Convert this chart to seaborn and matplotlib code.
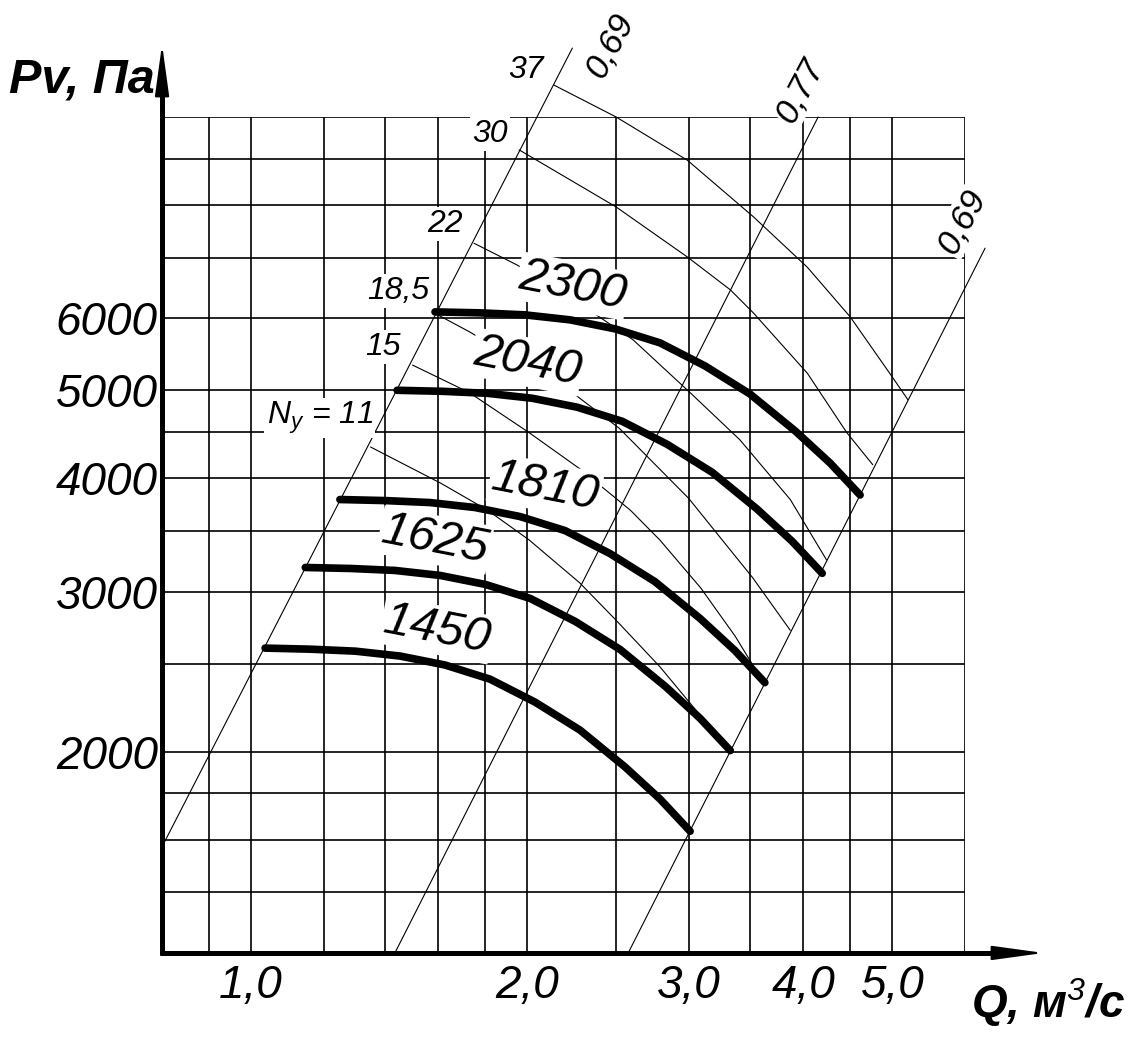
import pandas as pd
import seaborn as sns
import matplotlib.pyplot as plt

# Grid lines of the log-log chart
q_grid = [0.9, 1.0, 1.2, 1.4, 1.6, 1.8, 2.0, 2.5, 3.0, 3.5, 4.0, 4.5, 5.0, 6.0]
p_grid = [1400, 1600, 1800, 2000, 2500, 3000, 3500, 4000, 4500, 5000, 6000, 7000, 8000, 9000, 10000]
q_ticks = [1.0, 2.0, 3.0, 4.0, 5.0]
q_ticklabels = ["1,0", "2,0", "3,0", "4,0", "5,0"]
p_ticks = [2000, 3000, 4000, 5000, 6000]
p_ticklabels = ["2000", "3000", "4000", "5000", "6000"]

# Fan curves, rpm
speeds = ["1450", "1625", "1810", "2040", "2300"]
q_1450 = [1.036, 1.160, 1.299, 1.454, 1.627, 1.822, 2.040, 2.283, 2.557, 2.791, 3.010]
p_1450 = [2600, 2593, 2580, 2548, 2491, 2403, 2267, 2112, 1923, 1773, 1634]
q_1625 = [1.146, 1.283, 1.436, 1.608, 1.800, 2.015, 2.256, 2.525, 2.829, 3.087, 3.329]
p_1625 = [3190, 3182, 3166, 3126, 3056, 2949, 2782, 2591, 2359, 2175, 2005]
q_1810 = [1.25, 1.400, 1.567, 1.754, 1.964, 2.199, 2.461, 2.755, 3.086, 3.368, 3.631]
p_1810 = [3790, 3780, 3761, 3714, 3630, 3503, 3305, 3078, 2803, 2584, 2382]
q_2040 = [1.443, 1.616, 1.809, 2.025, 2.267, 2.538, 2.841, 3.181, 3.562, 3.888, 4.193]
p_2040 = [5000, 4987, 4962, 4900, 4790, 4622, 4360, 4061, 3698, 3409, 3143]
q_2300 = [1.587, 1.777, 1.989, 2.227, 2.493, 2.791, 3.124, 3.497, 3.917, 4.275, 4.611]
p_2300 = [6100, 6085, 6054, 5978, 5843, 5639, 5319, 4954, 4511, 4159, 3834]

# Power lines Ny, kW
powers = ["11", "15", "18,5", "22", "30", "37"]
q_n11 = [1.35, 1.61, 1.81, 2.01, 2.28, 2.5, 2.79, 3.09, 3.34]
p_n11 = [4330, 3950, 3690, 3420, 3070, 2790, 2480, 2190, 2000]
q_n15 = [1.5, 1.73, 2.01, 2.28, 2.59, 2.79, 3.09, 3.37, 3.63]
p_n15 = [5330, 4970, 4490, 4100, 3690, 3420, 3030, 2680, 2370]
q_n185 = [1.6, 1.73, 1.99, 2.27, 2.52, 3.0, 3.24, 3.52, 3.87]
p_n185 = [6050, 5800, 5330, 4920, 4540, 3800, 3450, 3110, 2720]
q_n22 = [1.75, 1.95, 2.25, 2.61, 3.01, 3.41, 3.87, 4.24]
p_n22 = [7260, 6870, 6290, 5680, 4970, 4410, 3790, 3250]
q_n30 = [1.96, 2.5, 2.99, 3.33, 3.53, 4.04, 4.46, 4.76]
p_n30 = [9200, 7960, 7010, 6450, 6080, 5220, 4490, 4140]
q_n37 = [2.14, 2.5, 2.99, 3.53, 4.04, 4.5, 5.0, 5.2]
p_n37 = [10840, 10000, 8960, 7760, 6830, 6020, 5170, 4880]

# Efficiency lines
eff_names = ["left 0,69", "0,77", "right 0,69"]
q_eff = [[0.8, 2.24], [1.435, 4.15], [2.577, 6.31]]
p_eff = [[1571, 11910], [1200, 10000], [1200, 7170]]

fan = pd.concat([
    pd.DataFrame({"Q": q, "P": p, "n": s})
    for s, q, p in zip(speeds, [q_1450, q_1625, q_1810, q_2040, q_2300],
                       [p_1450, p_1625, p_1810, p_2040, p_2300])
])
power = pd.concat([
    pd.DataFrame({"Q": q, "P": p, "N": s})
    for s, q, p in zip(powers, [q_n11, q_n15, q_n185, q_n22, q_n30, q_n37],
                       [p_n11, p_n15, p_n185, p_n22, p_n30, p_n37])
])
eff = pd.concat([
    pd.DataFrame({"Q": q, "P": p, "eta": s}) for s, q, p in zip(eff_names, q_eff, p_eff)
])

sns.set_theme(style="white")
plt.rcParams["font.family"] = ["Liberation Sans", "DejaVu Sans"]
plt.rcParams["mathtext.fontset"] = "custom"
plt.rcParams["mathtext.rm"] = "Liberation Sans:italic"
plt.rcParams["mathtext.it"] = "Liberation Sans:italic"
plt.rcParams["mathtext.bf"] = "Liberation Sans:bold:italic"
plt.rcParams["text.color"] = "black"
plt.rcParams["xtick.color"] = "black"
plt.rcParams["ytick.color"] = "black"
plt.rcParams["xtick.labelcolor"] = "black"
plt.rcParams["ytick.labelcolor"] = "black"

fig = plt.figure(figsize=(11.34, 10.4), dpi=100)
ax = fig.add_axes([0.1429, 0.0837, 0.7081, 0.8038])
ax.set_xscale("log")
ax.set_yscale("log")
ax.set_xlim(0.8, 6.0)
ax.set_ylim(1200, 10000)

# grid
for q in q_grid:
    ax.axvline(q, color="black", lw=1.2, zorder=1)
for p in p_grid:
    ax.axhline(p, color="black", lw=1.2, zorder=1)

# thin lines
sns.lineplot(data=eff, x="Q", y="P", units="eta", estimator=None, sort=False,
             color="black", lw=0.8, ax=ax, legend=False, zorder=2, clip_on=False)
sns.lineplot(data=power, x="Q", y="P", units="N", estimator=None, sort=False,
             color="black", lw=0.8, ax=ax, legend=False, zorder=2, clip_on=False)
# fan curves
sns.lineplot(data=fan, x="Q", y="P", units="n", estimator=None, sort=False,
             color="black", lw=5.5, ax=ax, legend=False, zorder=4,
             solid_capstyle="round", solid_joinstyle="round")

# ticks
ax.set_xticks(q_ticks, q_ticklabels)
ax.set_yticks(p_ticks, p_ticklabels)
ax.minorticks_off()
ax.tick_params(axis="both", length=0, labelsize=33, labelcolor="black")
ax.tick_params(axis="x", pad=8)
ax.tick_params(axis="y", pad=3)
for lbl in ax.get_xticklabels() + ax.get_yticklabels():
    lbl.set_style("italic")
ax.set_xlabel("")
ax.set_ylabel("")
for sp in ax.spines.values():
    sp.set_visible(False)

# axes lines with long narrow arrowheads
ax.plot([-0.003, 1.05], [0, 0], transform=ax.transAxes, color="black", lw=3.6,
        clip_on=False, zorder=5, solid_capstyle="butt")
ax.plot([0, 0], [-0.003, 1.04], transform=ax.transAxes, color="black", lw=3.6,
        clip_on=False, zorder=5, solid_capstyle="butt")
head = dict(arrowstyle="-|>,head_length=1.6,head_width=0.22", lw=1.5,
            color="black", shrinkA=0, shrinkB=0, mutation_scale=20)
ax.annotate("", xy=(1.098, 0), xytext=(1.0, 0), xycoords="axes fraction",
            arrowprops=head, annotation_clip=False)
ax.annotate("", xy=(0, 1.087), xytext=(0, 1.0), xycoords="axes fraction",
            arrowprops=head, annotation_clip=False)

box = dict(fc="white", ec="none", pad=1.5)

# speed labels
for s, (x, y) in zip(speeds, [(1.595, 2723), (1.587, 3421), (2.092, 3914),
                              (2.0, 5372), (2.243, 6514)]):
    ax.text(x, y, s, fontsize=35, style="italic", rotation=-11, ha="center",
            va="center", bbox=box, zorder=3, color="black")

# power labels
for s, (x, y) in zip(["15", "18,5", "22", "30", "37"],
                     [(1.393, 5581), (1.446, 6432), (1.627, 7624),
                      (1.822, 9580), (1.994, 11267)]):
    ax.text(x, y, s, fontsize=23, style="italic", ha="center", va="center",
            bbox=box, zorder=3, clip_on=False, color="black")
ax.text(1.189, 4662, "$N_y$ = 11", fontsize=23, style="italic", ha="center",
        va="center", bbox=box, zorder=3, color="black")

# efficiency labels
for s, (x, y) in zip(["0,69", "0,77", "0,69"],
                     [(2.46, 12000), (3.97, 10700), (5.95, 7662)]):
    ax.text(x, y, s, fontsize=25, style="italic", rotation=62, ha="center",
            va="center", bbox=dict(fc="white", ec="none", pad=0.5), zorder=3,
            clip_on=False, color="black")

fig.text(82 / 1134, 1 - 80 / 1040, "Pv, Па", fontsize=35, weight="bold",
         style="italic", ha="center", va="center", color="black")
fig.text(1048 / 1134, 1 - 1003 / 1040, "Q, м$^3$/с", fontsize=33,
         weight="bold", style="italic", ha="center", va="center", color="black")

fig.savefig("out.png", dpi=100, facecolor="white")
